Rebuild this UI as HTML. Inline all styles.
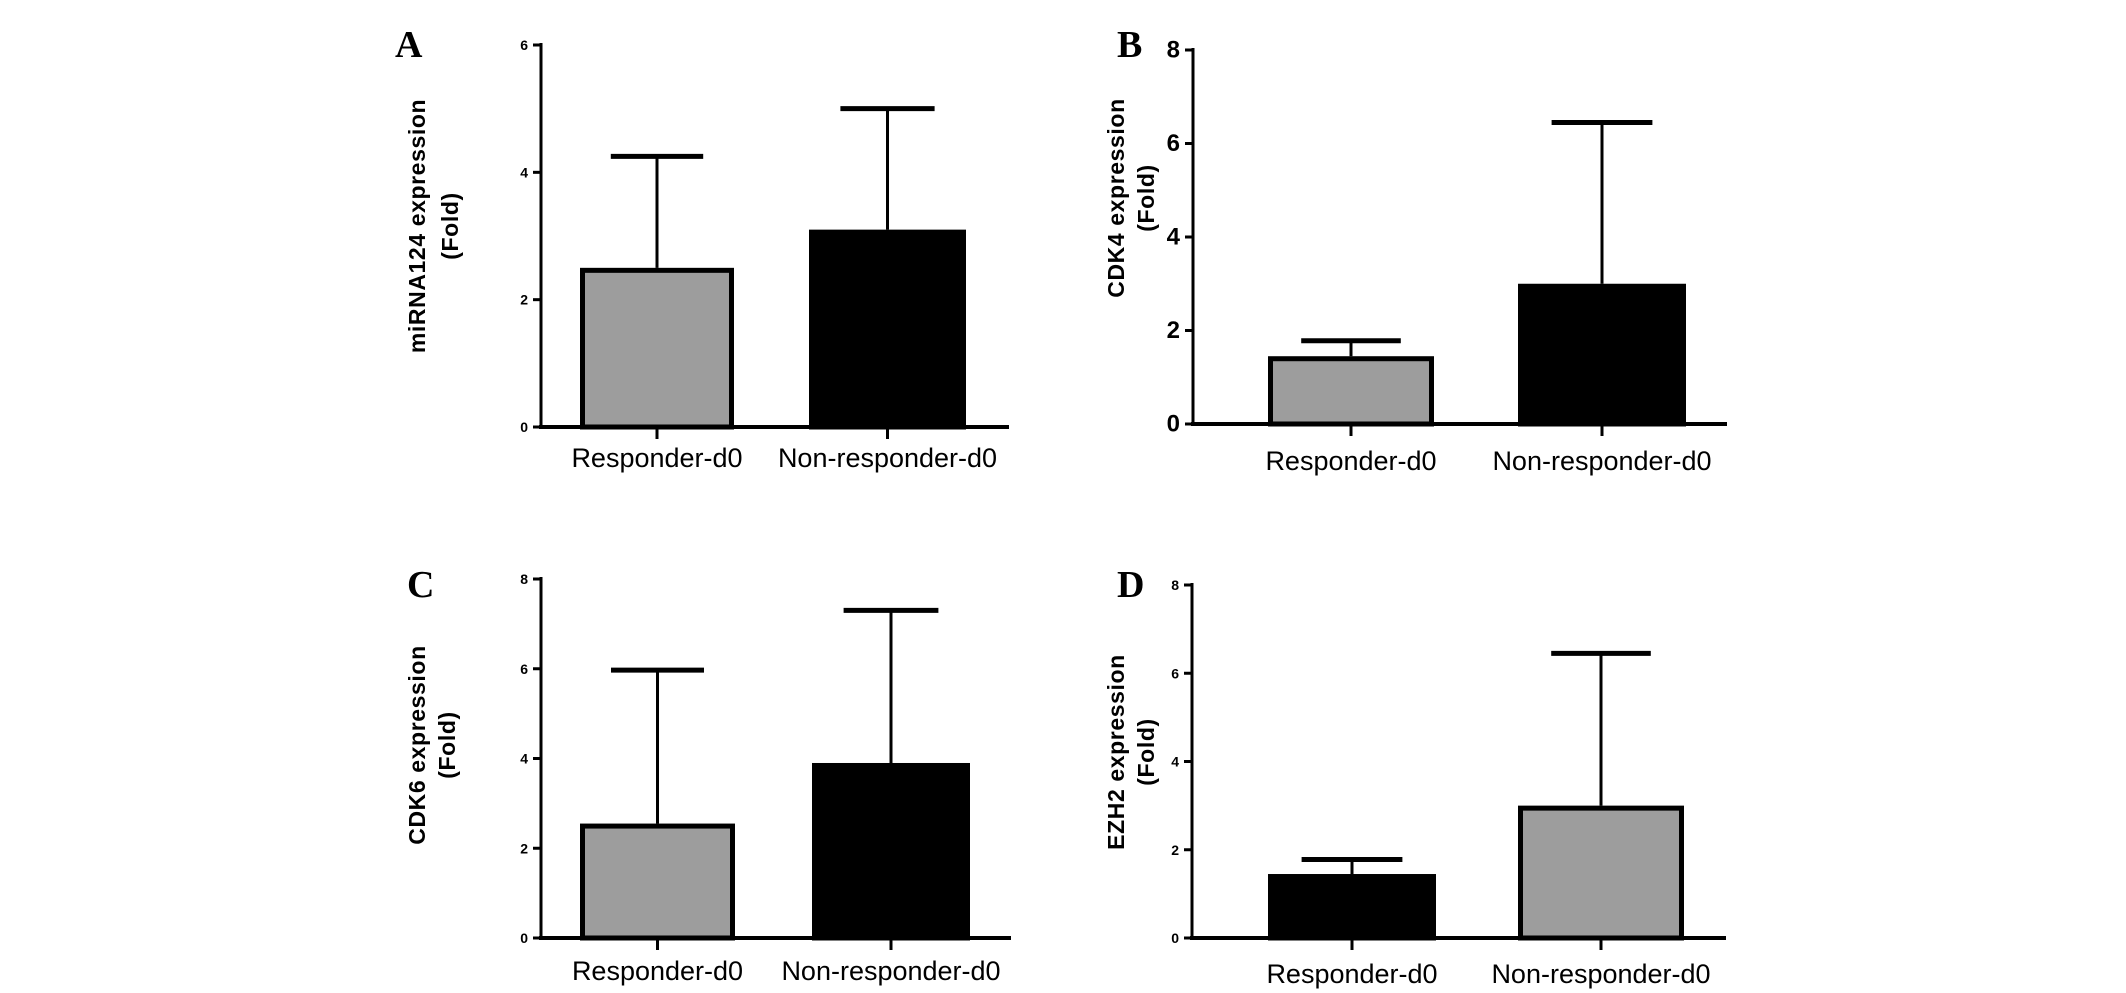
<!DOCTYPE html>
<html><head><meta charset="utf-8"><style>
html,body{margin:0;padding:0;background:#fff;}
svg{display:block;}
</style></head><body>
<svg id="fig" width="2126" height="993" viewBox="0 0 2126 993" xmlns="http://www.w3.org/2000/svg"></svg>
<script>
const categories = ["Responder-d0", "Non-responder-d0"];
const panelLetters = ["A", "B", "C", "D"];
const yTitles = [["miRNA124 expression", "(Fold)"], ["CDK4 expression", "(Fold)"], ["CDK6 expression", "(Fold)"], ["EZH2 expression", "(Fold)"]];
const meansA = [2.5, 3.1];
const errTopA = [4.25, 5.0];
const meansB = [1.45, 3.0];
const errTopB = [1.78, 6.45];
const meansC = [2.55, 3.9];
const errTopC = [5.97, 7.3];
const meansD = [1.45, 3.0];
const errTopD = [1.78, 6.45];
const ticksA = [0, 2, 4, 6];
const ticksB = [0, 2, 4, 6, 8];
const ticksC = [0, 2, 4, 6, 8];
const ticksD = [0, 2, 4, 6, 8];

const NS = "http://www.w3.org/2000/svg";
const svg = document.getElementById("fig");
function mk(tag, attrs, parent) {
  const e = document.createElementNS(NS, tag);
  for (const k in attrs) e.setAttribute(k, attrs[k]);
  (parent || svg).appendChild(e);
  return e;
}
const layouts = [
  {ax:541, y0:427, yTop:45, xEnd:1009, ymax:6, bars:[[580,734],[809,966]], fills:["#9d9d9d","#000"], tickFs:14, letter:[395,45], title:[417,450,226], labY:467},
  {ax:1193, y0:424, yTop:50, xEnd:1727, ymax:8, bars:[[1268,1434],[1518,1686]], fills:["#9d9d9d","#000"], tickFs:24, letter:[1117,45], title:[1116,1146,198], labY:470},
  {ax:541, y0:938, yTop:579, xEnd:1011, ymax:8, bars:[[580,735],[812,970]], fills:["#9d9d9d","#000"], tickFs:14, letter:[407,585], title:[417,447,745], labY:980},
  {ax:1192, y0:938, yTop:585, xEnd:1726, ymax:8, bars:[[1268,1436],[1518,1684]], fills:["#000","#9d9d9d"], tickFs:14, letter:[1117,585], title:[1116,1146,752], labY:983}
];
const means = [meansA, meansB, meansC, meansD];
const errs = [errTopA, errTopB, errTopC, errTopD];
const ticks = [ticksA, ticksB, ticksC, ticksD];

layouts.forEach((L, p) => {
  const g = mk("g", {});
  
  
  const y = v => L.y0 - (v / L.ymax) * (L.y0 - L.yTop);
  const lt = mk("text", {x:L.letter[0], y:L.letter[1]+12, "font-family":"Liberation Serif, serif", "font-weight":"bold", "font-size":38}, g);
  lt.textContent = panelLetters[p];
  
  
  yTitles[p].forEach((t, i) => {
    const x = L.title[i];
    const tt = mk("text", {x:x, y:L.title[2], transform:`rotate(-90 ${x} ${L.title[2]})`, "text-anchor":"middle", "dominant-baseline":"central", "font-family":"Liberation Sans, sans-serif", "font-weight":"bold", "font-size":23, "letter-spacing":0.6}, g);
    tt.textContent = t;
    
    
  });
  means[p].forEach((m, i) => {
    const [x1, x2] = L.bars[i];
    const cx = (x1 + x2) / 2;
    const w = x2 - x1;
    const el = mk("line", {x1:cx, x2:cx, y1:y(m), y2:y(errs[p][i]), stroke:"#000", "stroke-width":3}, g);
    
    
    const cap = mk("line", {x1:cx - w*0.3, x2:cx + w*0.3, y1:y(errs[p][i]), y2:y(errs[p][i]), stroke:"#000", "stroke-width":5}, g);
    
    
    const r = mk("rect", {x:x1+2.5, y:y(m)+2.5, width:w-5, height:L.y0 - y(m) - 2.5, fill:L.fills[i], stroke:"#000", "stroke-width":5}, g);
    
    
    const tk = mk("line", {x1:cx, x2:cx, y1:L.y0, y2:L.y0+12, stroke:"#000", "stroke-width":3}, g);
    
    
    const lb = mk("text", {x:cx, y:L.labY, "text-anchor":"middle", "font-family":"Liberation Sans, sans-serif", "font-size":27}, g);
    lb.textContent = categories[i];
    
    
  });
  const ya = mk("line", {x1:L.ax, x2:L.ax, y1:L.yTop-2, y2:L.y0+2, stroke:"#000", "stroke-width":3}, g);
  
  
  const xa = mk("line", {x1:L.ax-2, x2:L.xEnd, y1:L.y0, y2:L.y0, stroke:"#000", "stroke-width":4}, g);
  
  
  ticks[p].forEach(t => {
    const tl = mk("line", {x1:L.ax-8, x2:L.ax, y1:y(t), y2:y(t), stroke:"#000", "stroke-width":3}, g);
    
    
    const tx = mk("text", {x:L.ax-13, y:y(t), "text-anchor":"end", "dominant-baseline":"central", "font-family":"Liberation Sans, sans-serif", "font-weight":"bold", "font-size":L.tickFs}, g);
    tx.textContent = t;
    
    
  });
});
</script>
</body></html>
